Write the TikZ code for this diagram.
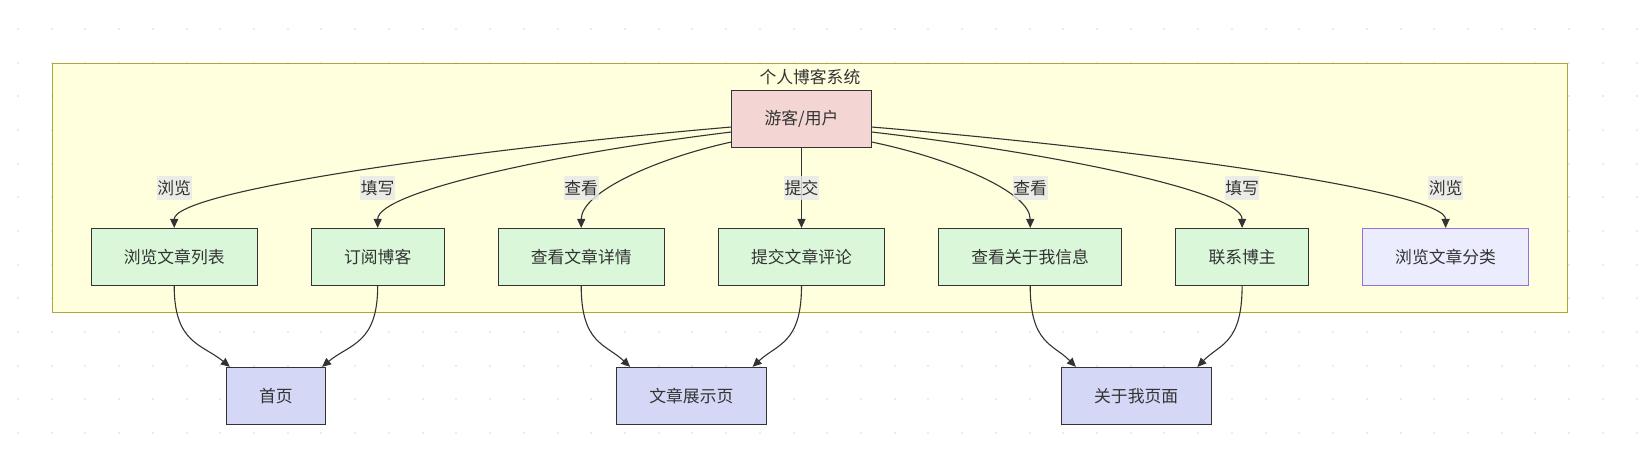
\documentclass[tikz,border=0pt]{standalone}
\usepackage{fontspec}
\setmainfont{Noto Sans CJK SC}
\usepackage{xcolor}
\usetikzlibrary{arrows.meta,positioning,calc,fit,backgrounds}
\definecolor{txt}{HTML}{333333}
\definecolor{userpink}{HTML}{F3D5D4}
\definecolor{actgreen}{HTML}{DAF7DA}
\definecolor{pageblue}{HTML}{D4D8F6}
\definecolor{lavender}{HTML}{ECECFF}
\definecolor{purpleline}{HTML}{9370DB}
\definecolor{sysfill}{HTML}{FFFFDE}
\definecolor{sysline}{HTML}{AAAA33}
\definecolor{labelgray}{HTML}{E8E8E8}
\definecolor{dotgray}{HTML}{EBEBEB}

\begin{document}
\begin{tikzpicture}[
  x=1pt, y=-1pt, font=\fontsize{16.8}{20}\selectfont, text=txt,
  >={Triangle[length=9pt,width=8pt]}, node distance=53pt,
  box/.style={draw=txt, line width=0.9pt, inner xsep=32.8pt, minimum height=57pt, text=txt},
  actor/.style={box, fill=userpink},
  action/.style={box, fill=actgreen},
  plainact/.style={box, fill=lavender, draw=purpleline},
  page/.style={box, fill=pageblue},
  elabel/.style={fill=labelgray, fill opacity=0.8, text opacity=1, inner xsep=0.5pt, inner ysep=4pt},
  flow/.style={->, line width=1.1pt, draw=txt},
]
\useasboundingbox (0,0) rectangle (1651,461);
% ---------------- dotted canvas ----------------
\begin{scope}[on background layer]
\foreach \i in {0,...,48}
  \foreach \j in {0,...,12}
    \fill[dotgray] (17+33.72*\i, 28+33.67*\j) rectangle ++(2,2);
\end{scope}

% ---------------- visitor and actions ----------------
\node[actor] (user) at (801.5,119) {游客/用户};
\node[action, below=80pt of user] (com) {提交文章评论};
\node[action, left=of com] (det) {查看文章详情};
\node[action, left=of det] (sub) {订阅博客};
\node[action, left=of sub] (list) {浏览文章列表};
\node[action, right=of com] (about) {查看关于我信息};
\node[action, right=of about] (contact) {联系博主};
\node[plainact, right=of contact] (cat) {浏览文章分类};

\begin{scope}[on background layer]
\node[draw=sysline, fill=sysfill, line width=0.9pt, inner xsep=38pt, inner ysep=27pt,
      fit=(list)(cat)(user)] (sys) {};
\end{scope}
\node at ([yshift=-14pt]sys.north) {个人博客系统};

% ---------------- pages ----------------
\coordinate (hm) at ($(list.south)!.5!(sub.south)$);
\coordinate (sh) at ($(det.south)!.5!(com.south)$);
\coordinate (ab) at ($(about.south)!.5!(contact.south)$);
\node[page, below=81pt of hm] (home) {首页};
\node[page, below=81pt of sh] (show) {文章展示页};
\node[page, below=81pt of ab] (aboutpg) {关于我页面};

% ---------------- visitor actions ----------------
\coordinate (lbl) at (0,175);
\foreach \t/\d in {list/8, sub/13, det/23}
  \draw[flow] ([yshift=-\d pt]user.west) .. controls ($([yshift=-\d pt]user.west)!0.5!(\t.north |- lbl)$)
    and ([yshift=36pt]\t.north) .. (\t.north);
\foreach \t/\d in {cat/8, contact/13, about/23}
  \draw[flow] ([yshift=-\d pt]user.east) .. controls ($([yshift=-\d pt]user.east)!0.5!(\t.north |- lbl)$)
    and ([yshift=36pt]\t.north) .. (\t.north);
\draw[flow] (user) -- (com);

\coordinate (lrow) at (0,188);
\foreach \t/\l in {list/浏览, sub/填写, det/查看, com/提交, about/查看, contact/填写, cat/浏览}
  \node[elabel] at (\t.north |- lrow) {\l};

% ---------------- to pages ----------------
\foreach \s/\t/\a/\dx in {list/home/north west/4, sub/home/north east/-4,
                          det/show/north west/14, com/show/north east/-14,
                          about/aboutpg/north west/15, contact/aboutpg/north east/-14}
  \draw[flow] (\s.south) .. controls ([yshift=-58pt]\s.south)
    and ($(\s.south)!.5!([xshift=\dx pt]\t.\a) + (0,17.5)$) .. ([xshift=\dx pt]\t.\a);
\end{tikzpicture}
\end{document}
